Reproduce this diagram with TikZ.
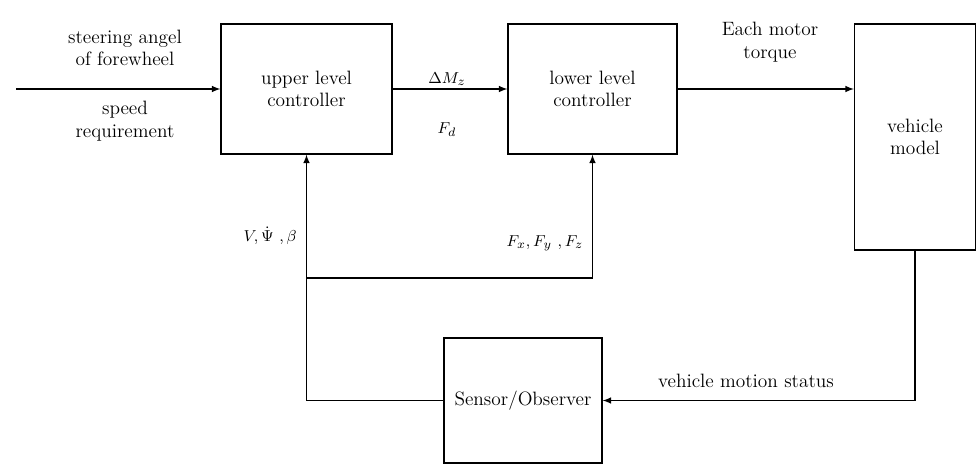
\documentclass[tikz,border=0pt]{standalone}
\usepackage{tikz}
\usetikzlibrary{positioning, arrows.meta}
\tikzstyle{block}=[draw,fill=white,rectangle,align=center]
\tikzstyle{every node}=[font=\fontsize{11}{12.8}\selectfont]
\tikzstyle{lbl}=[align=center,inner sep=0pt]
\tikzstyle{mlbl}=[inner sep=0pt,font=\fontsize{9.5}{11}\selectfont]

\begin{document}
\begin{tikzpicture}[>=latex, x=0.02cm, y=-0.02cm, line width=0.7pt]
            \useasboundingbox (0,0) rectangle (976,464);
            \node[block, minimum width=3.42cm, minimum height=2.6cm] (ulc) at (306.5,89) {upper level\\controller};
            \node[block, minimum width=3.38cm, minimum height=2.6cm] (llc) at (592.5,89) {lower level\\controller};
            \node[block, minimum width=2.42cm, minimum height=4.52cm] (vm) at (915,137) {vehicle\\model};
            \node[block, minimum width=3.16cm, minimum height=2.5cm] (so) at (523,400.5) {Sensor/Observer};
            \coordinate (in) at (16,89);
            \coordinate (br) at (306.5,278);
            % labels
            \node[lbl] (steer) at (125,48) {steering angel\\of forewheel};
            \node[lbl] (speed) at (125,121) {speed\\requirement};
            \node[mlbl] (dmz) at (447,79) {$\Delta M_z$};
            \node[mlbl] (fd) at (447,130) {$F_d$};
            \node[lbl] (emt) at (770,42) {Each motor\\torque};
            \node[mlbl] (vpb) at (270,236) {$V, \dot{\Psi}\ , \beta$};
            \node[mlbl] (fxyz) at (545,243) {$F_x, F_y\ , F_z$};
            \node[lbl] (vms) at (746,381) {vehicle motion status};
            % connectors
            \draw[->] (in) -- (ulc);
            \draw[->] (ulc) -- (llc);
            \draw[->] (llc) -- (vm.west |- llc);
            \draw[->] (vm.south) |- (so.east);
            \draw[->] (so.west) -| (ulc.south);
            \draw[->] (br) -| (llc.south);
        \end{tikzpicture}
\end{document}
